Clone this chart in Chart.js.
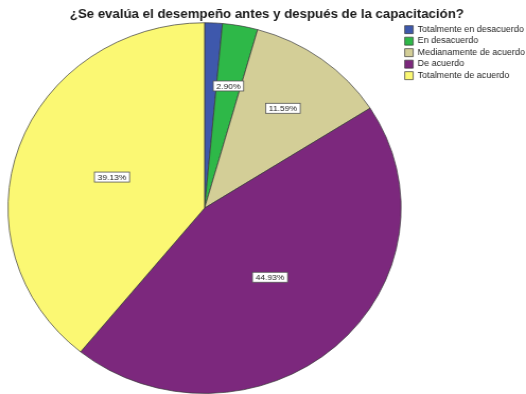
<!DOCTYPE html>
<html>
<head>
<meta charset="utf-8">
<script src="https://cdn.jsdelivr.net/npm/chart.js@4/dist/chart.umd.min.js"></script>
<style>
  html, body { margin: 0; padding: 0; background: #ffffff; overflow: hidden; }
  #wrap { width: 496px; height: 394px; transform: scaleX(1.0605); transform-origin: 0 0; }
</style>
</head>
<body>
<div id="wrap"><canvas id="c" width="496" height="394"></canvas></div>
<script>
// Answer categories and their share of responses (%)
const categories = [
  'Totalmente en desacuerdo',
  'En desacuerdo',
  'Medianamente de acuerdo',
  'De acuerdo',
  'Totalmente de acuerdo'
];
const percentages = [1.45, 2.90, 11.59, 44.93, 39.13];
const sliceColors = ['#3E58AC', '#2EB848', '#D3CE97', '#7C287D', '#FBF873'];
const chartTitle = '¿Se evalúa el desempeño antes y después de la capacitación?';

// Boxed percentage labels placed inside each slice
const sliceLabels = {
  id: 'sliceLabels',
  afterDatasetsDraw(chart) {
    const ctx = chart.ctx;
    const meta = chart.getDatasetMeta(0);
    const values = chart.data.datasets[0].data;
    const total = values.reduce((a, b) => a + b, 0);
    ctx.save();
    ctx.font = '8px "Liberation Sans", Arial, sans-serif';
    ctx.textAlign = 'center';
    ctx.textBaseline = 'middle';
    meta.data.forEach((arc, i) => {
      const share = values[i] / total;
      if (share < 0.02) return;
      const p = arc.getProps(['x', 'y', 'startAngle', 'endAngle', 'outerRadius'], true);
      const mid = (p.startAngle + p.endAngle) / 2;
      const r = p.outerRadius * (share < 0.2 ? 0.67 : 0.5);
      const cx = p.x + Math.cos(mid) * r;
      const cy = p.y + Math.sin(mid) * r;
      const text = (share * 100).toFixed(2) + '%';
      const w = ctx.measureText(text).width + 6;
      const h = 10;
      ctx.fillStyle = '#ffffff';
      ctx.fillRect(cx - w / 2, cy - h / 2, w, h);
      ctx.strokeStyle = '#555555';
      ctx.lineWidth = 0.8;
      ctx.strokeRect(cx - w / 2, cy - h / 2, w, h);
      ctx.fillStyle = '#222222';
      ctx.fillText(text, cx, cy + 0.5);
    });
    ctx.restore();
  }
};

new Chart(document.getElementById('c'), {
  type: 'pie',
  data: {
    labels: categories,
    datasets: [{
      data: percentages,
      backgroundColor: sliceColors,
      borderColor: '#3a3a3a',
      borderWidth: 0.7
    }]
  },
  options: {
    responsive: false,
    animation: false,
    devicePixelRatio: 1,
    layout: { padding: { left: 7.2, right: 0, top: 0, bottom: 0.2 } },
    plugins: {
      title: {
        display: true,
        text: chartTitle,
        color: '#1a1a1a',
        font: { family: '"Liberation Sans", Arial, sans-serif', size: 12.5, weight: 'bold', lineHeight: 1.2 },
        padding: { top: 7.4, bottom: 0 }
      },
      legend: {
        position: 'right',
        align: 'start',
        fullSize: false,
        maxWidth: 117.4,
        labels: {
          boxWidth: 8,
          boxHeight: 8,
          padding: 3,
          color: '#222222',
          font: { family: '"Liberation Sans", Arial, sans-serif', size: 8.5 }
        }
      },
      tooltip: { enabled: false }
    }
  },
  plugins: [sliceLabels]
});
</script>
</body>
</html>
